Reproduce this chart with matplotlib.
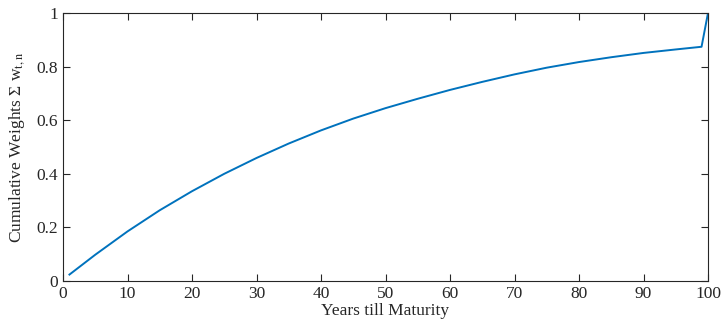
import numpy as np
from matplotlib import pyplot as plt

plt.rcParams['font.family'] = ['Liberation Serif', 'DejaVu Serif']
plt.rcParams['mathtext.fontset'] = 'stix'

# values
years = [1, 5, 10, 15, 20, 25, 30, 35, 40, 45, 50, 55, 60, 65, 70, 75, 80, 85, 90, 95, 99, 100]
cum_weights = [0.024, 0.098, 0.185, 0.264, 0.335, 0.400, 0.459, 0.513, 0.562, 0.606, 0.645,
               0.680, 0.713, 0.743, 0.771, 0.796, 0.817, 0.835, 0.851, 0.864, 0.874, 1.0]

fig = plt.figure(figsize=(7.23, 3.28), dpi=100)
ax = fig.add_axes([63/723, 1 - 281/328, 645/723, 268/328])

ax.plot(years, cum_weights, color='#0072BD', lw=1.4)

ax.set_xlim(0, 100)
ax.set_ylim(0, 1)
ax.set_xticks(np.arange(0, 101, 10))
ax.set_yticks([0, 0.2, 0.4, 0.6, 0.8, 1])
ax.set_yticklabels(['0', '0.2', '0.4', '0.6', '0.8', '1'])

ax.tick_params(direction='in', top=True, right=True, length=5, width=0.8,
               colors='#262626', labelsize=12.5, labelcolor='#262626')
for s in ax.spines.values():
    s.set_color('#262626')
    s.set_linewidth(0.8)

ax.set_xlabel('Years till Maturity', fontsize=12.5, color='#262626', labelpad=1)
ax.set_ylabel('Cumulative Weights Σ w$_{\\mathrm{t,n}}$', fontsize=12.5, color='#262626', labelpad=7)

fig.savefig('out.png', dpi=100)
